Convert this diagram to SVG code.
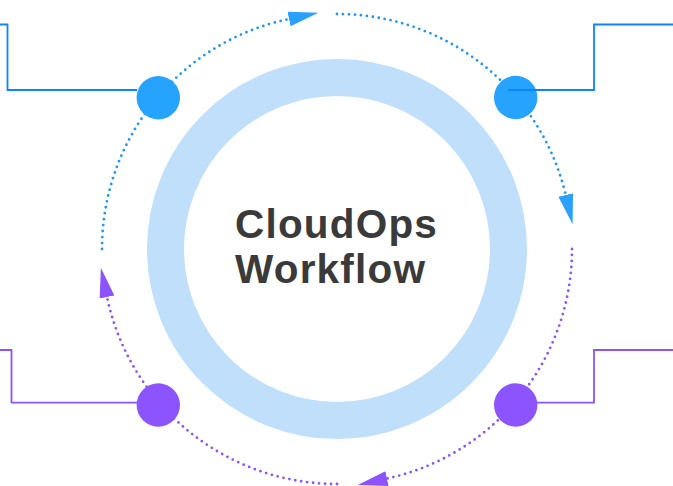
<svg xmlns="http://www.w3.org/2000/svg" width="673" height="486" viewBox="0 0 673 486">
  <style>
    .dots { fill: none; stroke-width: 2.8; stroke-dasharray: 0 6; stroke-linecap: round; }
    .blue-dots { stroke: #2196F3; }
    .purple-dots { stroke: #8C54FF; }
    .lead { fill: none; stroke-width: 1.8; }
    .lead-blue { stroke: #0A84FF; }
    .lead-purple { stroke: #8C54FF; }
    .node-blue { fill: #26A3FF; }
    .node-purple { fill: #8C54FF; }
    .title { font-family: "Liberation Sans", Arial, sans-serif; font-weight: bold; font-size: 40.5px; letter-spacing: 1.2px; fill: #3A3A3A; }
  </style>
  <defs>
    <marker id="arrow-blue" markerUnits="userSpaceOnUse" markerWidth="31" markerHeight="16" refX="0" refY="7.5" orient="auto">
      <path d="M0,0 L30,7.5 L0,15 Z" fill="#2AA1FF"/>
    </marker>
    <marker id="arrow-purple" markerUnits="userSpaceOnUse" markerWidth="31" markerHeight="16" refX="0" refY="7.5" orient="auto">
      <path d="M0,0 L30,7.5 L0,15 Z" fill="#8C54FF"/>
    </marker>
  </defs>
  <rect width="673" height="486" fill="#FFFFFF"/>

  <g id="center">
    <circle cx="337" cy="249" r="171.5" fill="#FFFFFF" stroke="#BFDFFA" stroke-width="37"/>
    <text class="title" x="235" y="237.5">CloudOps</text>
    <text class="title" x="235" y="283">Workflow</text>
  </g>

  <g id="connectors">
    <path class="dots blue-dots" d="M102,249 A235,235 0 0 1 289,19" marker-end="url(#arrow-blue)"/>
    <path class="dots blue-dots" d="M337,14 A235,235 0 0 1 565.7,195" marker-end="url(#arrow-blue)"/>
    <path class="dots purple-dots" d="M572,249 A235,235 0 0 1 387,478.6" marker-end="url(#arrow-purple)"/>
    <path class="dots purple-dots" d="M337,484 A235,235 0 0 1 107,297" marker-end="url(#arrow-purple)"/>
  </g>

  <g id="node-top-left"><circle class="node-blue" cx="158.3" cy="97.7" r="21.7"/></g>
  <g id="node-top-right"><circle class="node-blue" cx="515.7" cy="97.5" r="21.7"/></g>
  <g id="node-bottom-left"><circle class="node-purple" cx="158.3" cy="405" r="21.7"/></g>
  <g id="node-bottom-right"><circle class="node-purple" cx="515.7" cy="405" r="21.7"/></g>

  <g id="leader-lines">
    <path class="lead lead-blue" d="M0,24.5 H7.5 V90 H137"/>
    <path class="lead lead-blue" d="M508,90 H594 V24.5 H673"/>
    <path class="lead lead-purple" d="M0,350 H11.5 V402.7 H137"/>
    <path class="lead lead-purple" d="M536,402.7 H594 V350 H673"/>
  </g>
</svg>
